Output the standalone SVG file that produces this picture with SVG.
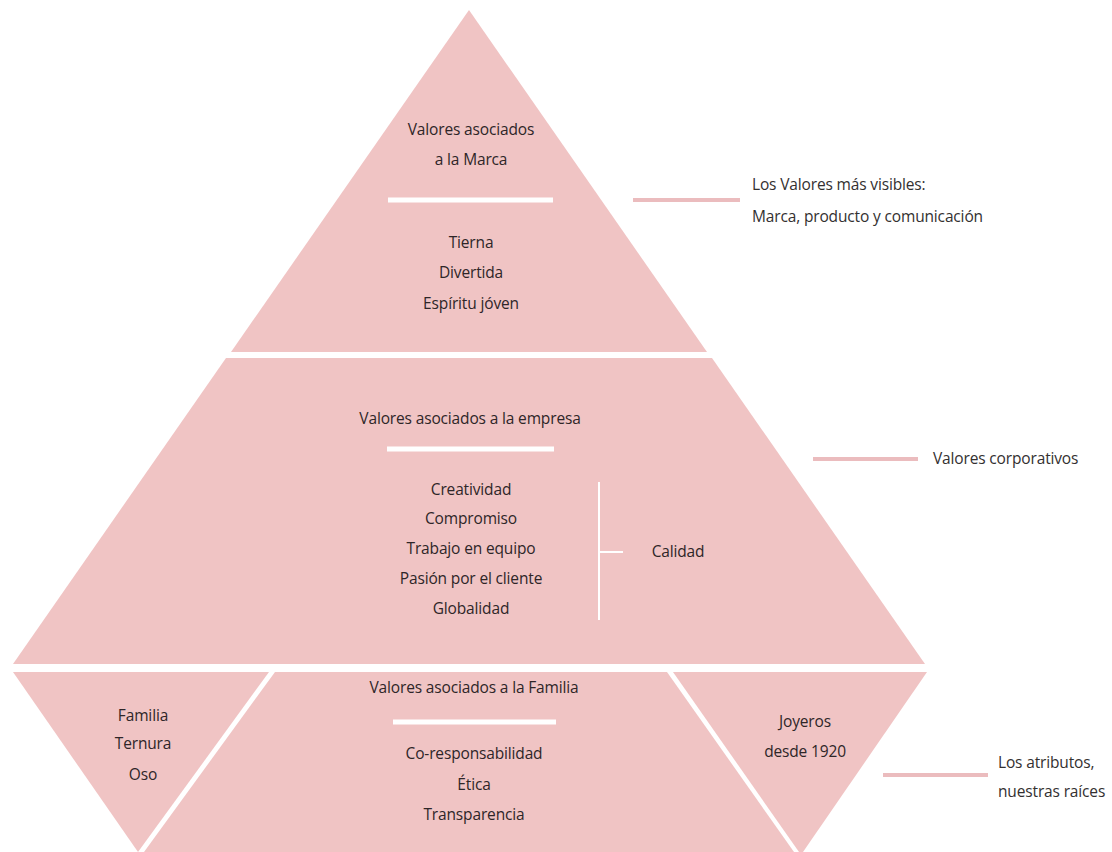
<svg xmlns="http://www.w3.org/2000/svg" width="1112" height="852" viewBox="0 0 1112 852">
<style>
.seg{fill:#f0c4c4}
.t{font-family:"Open Sans","Liberation Sans",sans-serif;font-size:15.5px;fill:#2e2628;text-anchor:middle;letter-spacing:-0.15px}
.a{font-family:"Open Sans","Liberation Sans",sans-serif;font-size:15.5px;fill:#333030;letter-spacing:-0.15px}
.bar{stroke:#ffffff;stroke-width:5}
.thin{stroke:#ffffff;stroke-width:2;fill:none}
.lead{stroke:#ebbcbe;stroke-width:4}
</style>
<rect width="1112" height="852" fill="#ffffff"/>

<g id="top">
<polygon class="seg" points="469,10 707,352 231,352"/>
<text class="t" x="471" y="135">Valores asociados</text>
<text class="t" x="471" y="165">a la Marca</text>
<line class="bar" x1="388" y1="200" x2="553" y2="200"/>
<text class="t" x="471" y="248">Tierna</text>
<text class="t" x="471" y="278">Divertida</text>
<text class="t" x="471" y="309">Espíritu jóven</text>
</g>

<g id="middle">
<polygon class="seg" points="226,358 712,358 925,664 13,664"/>
<text class="t" x="470" y="424">Valores asociados a la empresa</text>
<line class="bar" x1="387" y1="449" x2="554" y2="449"/>
<text class="t" x="471" y="495">Creatividad</text>
<text class="t" x="471" y="524">Compromiso</text>
<text class="t" x="471" y="554">Trabajo en equipo</text>
<text class="t" x="471" y="584">Pasión por el cliente</text>
<text class="t" x="471" y="614">Globalidad</text>
<path class="thin" d="M599,482 V620 M599,552 H623"/>
<text class="t" x="678" y="557">Calidad</text>
</g>

<g id="bottom-left">
<polygon class="seg" points="13,672 269,672 138,852"/>
<text class="t" x="143" y="721">Familia</text>
<text class="t" x="143" y="749">Ternura</text>
<text class="t" x="143" y="780">Oso</text>
</g>

<g id="bottom-center">
<polygon class="seg" points="275,672 667,672 794,852 144,852"/>
<text class="t" x="474" y="693">Valores asociados a la Familia</text>
<line class="bar" x1="393" y1="722" x2="556" y2="722"/>
<text class="t" x="474" y="759">Co-responsabilidad</text>
<text class="t" x="474" y="790">Ética</text>
<text class="t" x="474" y="820">Transparencia</text>
</g>

<g id="bottom-right">
<polygon class="seg" points="673,672 927,672 803,852 799,852"/>
<text class="t" x="805" y="727">Joyeros</text>
<text class="t" x="805" y="757">desde 1920</text>
</g>

<g id="connectors">
<line class="lead" x1="633" y1="200" x2="740" y2="200"/>
<line class="lead" x1="813" y1="459" x2="918" y2="459"/>
<line class="lead" x1="883" y1="775" x2="988" y2="775"/>
</g>

<g id="annotations">
<text class="a" x="752" y="190">Los Valores más visibles:</text>
<text class="a" x="752" y="222">Marca, producto y comunicación</text>
<text class="a" x="933" y="464">Valores corporativos</text>
<text class="a" x="998" y="768">Los atributos,</text>
<text class="a" x="998" y="797">nuestras raíces</text>
</g>
</svg>
